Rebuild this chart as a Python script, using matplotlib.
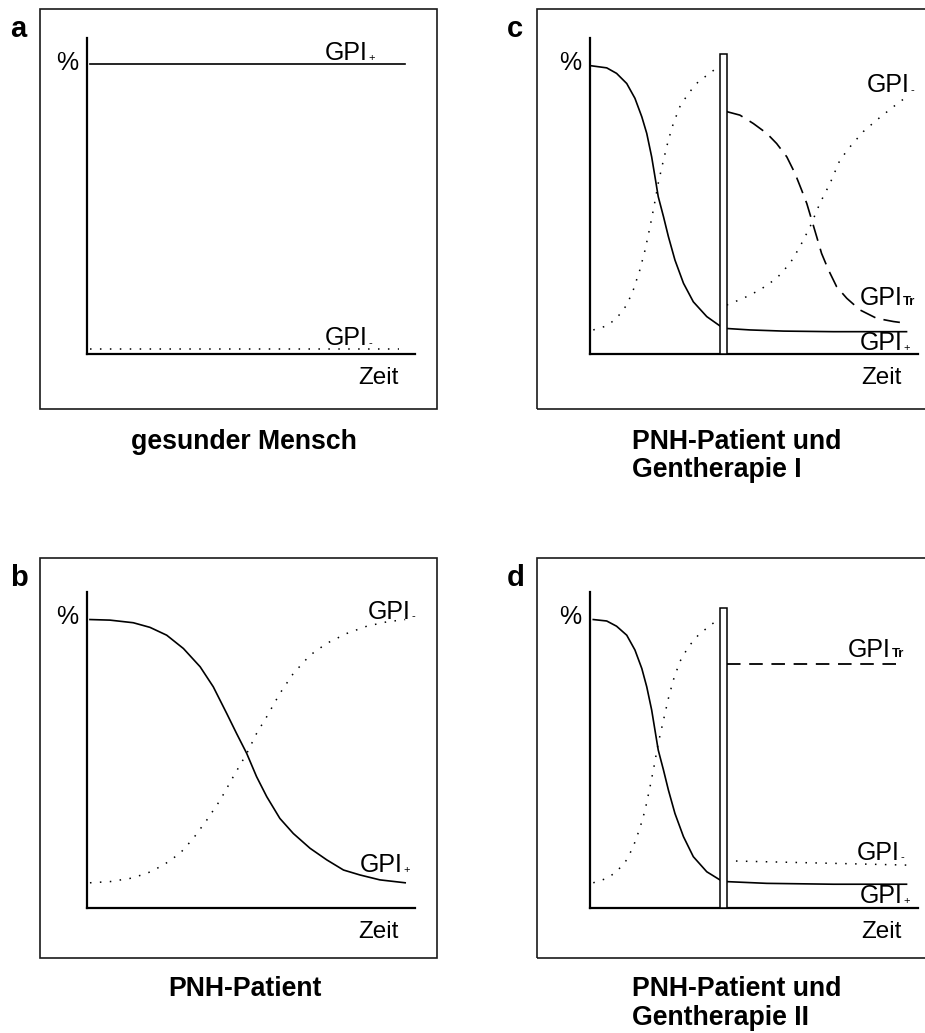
import matplotlib
matplotlib.use('Agg')
from matplotlib import pyplot as plt
from matplotlib.patches import Rectangle

plt.rcParams['font.family'] = ['Liberation Sans', 'DejaVu Sans']

W, H = 925, 1033

# a: gesunder Mensch
a_t_plus = [1, 97]
a_plus = [100, 100]
a_t_minus = [1, 95]
a_minus = [1.7, 1.7]

# b: PNH-Patient
b_t_plus = [0.9, 7.0, 14.1, 19.2, 24.3, 29.4, 34.5, 38.5, 42.6, 45.6, 48.7, 51.7, 54.8,
            58.8, 62.9, 68.0, 73.1, 78.2, 83.2, 89.3, 97.0]
b_plus = [99.5, 99.3, 98.4, 96.8, 94.1, 89.5, 83.2, 76.3, 67.1, 60.2, 53.3, 45.3, 38.4,
          30.9, 25.7, 20.6, 16.6, 13.1, 11.4, 9.7, 8.7]
b_t_minus = [0.9, 7.0, 13.1, 18.2, 23.3, 28.4, 32.4, 36.5, 40.6, 44.6, 48.7, 51.7, 54.8,
             58.8, 62.9, 68.0, 73.1, 79.2, 85.3, 91.4, 97.0]
b_minus = [8.7, 9.1, 10.2, 11.9, 14.8, 18.9, 24.0, 30.3, 37.2, 45.3, 53.3, 60.2, 66.0,
           74.0, 80.9, 87.2, 91.3, 94.7, 97.2, 98.7, 99.5]

# c: PNH-Patient und Gentherapie I
c_t_plus = [0.5, 5.1, 8.1, 11.2, 13.7, 15.8, 17.3, 18.8, 19.8, 20.8, 22.4, 23.9, 25.9,
            28.5, 31.5, 35.6, 39.6]
c_plus = [99.4, 98.7, 96.8, 93.3, 88.2, 81.8, 76.1, 68.0, 61.2, 54.3, 47.4, 40.5, 32.4,
          24.4, 18.0, 12.9, 9.7]
c_t_plus2 = [41.7, 48.8, 59.0, 74.2, 96.5]
c_plus2 = [8.8, 8.3, 7.9, 7.7, 7.7]
c_t_minus = [1.0, 5.1, 8.1, 11.2, 13.2, 15.2, 16.8, 18.3, 19.5, 20.8, 22.4, 23.9, 25.4,
             27.4, 30.0, 33.0, 36.1, 38.1]
c_minus = [8.3, 9.7, 12.3, 16.9, 22.1, 29.0, 35.9, 43.9, 50.8, 58.9, 66.9, 73.8, 79.5,
           85.3, 89.9, 93.9, 96.5, 98.2]
c_t_minus2 = [41.7, 46.7, 51.8, 56.9, 61.0, 64.0, 67.1, 70.1, 73.2, 76.2, 79.3, 83.3,
              87.4, 92.5, 96.5]
c_minus2 = [16.9, 19.2, 22.1, 26.1, 31.3, 37.0, 43.9, 52.0, 58.9, 66.9, 71.5, 76.7,
            80.7, 85.3, 88.7]
c_t_tr = [41.7, 45.7, 49.8, 53.9, 56.9, 60.0, 62.5, 64.5, 66.1, 67.6, 69.1, 70.6, 72.7,
          75.2, 78.3, 82.3, 87.4, 92.5, 96.5]
c_tr = [83.6, 82.4, 79.5, 76.1, 72.6, 68.0, 62.3, 56.6, 51.9, 46.2, 40.5, 34.7, 29.0,
        23.2, 19.2, 15.2, 12.3, 11.2, 10.6]

# d: PNH-Patient und Gentherapie II
d_t_plus = [1.0, 5.1, 8.1, 11.2, 13.7, 15.8, 17.3, 18.8, 19.8, 20.8, 22.4, 23.9, 25.9,
            28.5, 31.5, 35.6, 39.6]
d_plus = [99.5, 99.0, 97.2, 94.1, 89.0, 82.6, 76.3, 68.3, 61.4, 54.5, 47.6, 40.7, 32.6,
          24.6, 17.7, 12.5, 9.7]
d_t_plus2 = [41.7, 53.9, 74.2, 96.5]
d_plus2 = [9.1, 8.5, 8.2, 8.2]
d_t_minus = [1.0, 5.1, 8.1, 11.2, 13.2, 15.2, 16.8, 18.3, 19.5, 20.8, 22.4, 23.9, 25.4,
             27.4, 30.0, 33.0, 36.1, 38.1]
d_minus = [8.7, 10.2, 12.5, 16.6, 21.2, 27.5, 33.8, 41.8, 48.7, 56.8, 64.8, 72.3, 78.6,
           85.0, 90.1, 94.1, 97.0, 98.7]
d_t_minus2 = [44.5, 96.6]
d_minus2 = [16.2, 14.8]
d_t_tr = [41.8, 94.2]
d_tr = [84.1, 84.1]

# Zeitpunkt der Gentherapie (Balken)
therapie_t = 39.6
therapie_breite = 2.2
therapie_hoehe = 103.5

SOLID = dict(color='black', lw=1.2, ls='-', solid_joinstyle='round')
DOTS = dict(color='black', lw=1.1, ls=(0, (1, 5.5)))

fig = plt.figure(figsize=(W / 100, H / 100), dpi=100)


def fx(x, y):
    return x / W, 1 - y / H


def panel(x0, y0, bx, by, letter):
    # Rahmen um das Teilbild
    fig.add_artist(Rectangle(fx(bx, by + 400), 397 / W, 400 / H, transform=fig.transFigure,
                             fill=False, lw=1.2, ec='#1a1a1a'))
    fig.text(*fx(bx - 30, by + 28), letter, fontsize=21, fontweight='bold', va='baseline')
    ax = fig.add_axes([x0 / W, 1 - y0 / H, 328 / W, 316 / H])
    ax.set_xlim(0, 100)
    ax.set_ylim(0, 109)
    ax.patch.set_alpha(0)
    for s in ['top', 'right']:
        ax.spines[s].set_visible(False)
    for s in ['left', 'bottom']:
        ax.spines[s].set_linewidth(1.6)
    ax.set_xticks([])
    ax.set_yticks([])
    ax.text(-2.6, 100.5, '%', fontsize=18, ha='right', va='center')
    ax.text(95, -10.2, 'Zeit', fontsize=17.5, ha='right', va='baseline')
    return ax


def gpi(ax, x, y, sub, bold=False):
    t = ax.text(x, y, 'GPI', fontsize=18, va='baseline')
    ax.annotate(sub, xy=(1, 0), xycoords=t, xytext=(0.3, 1.7), textcoords='offset points',
                fontsize=9.5 if bold else 8, fontweight='bold' if bold else 'normal',
                va='bottom', ha='left')


def balken(ax):
    ax.add_patch(Rectangle((therapie_t, 0), therapie_breite, therapie_hoehe,
                           fc='white', ec='black', lw=1.1, zorder=5, clip_on=False))


# a
ax = panel(87, 354, 40, 9, 'a')
ax.plot(a_t_plus, a_plus, **SOLID)
ax.plot(a_t_minus, a_minus, **DOTS)
gpi(ax, 72.6, 101.4, '+')
gpi(ax, 72.6, 3.1, '-')

# b
ax = panel(87, 908, 40, 558, 'b')
ax.plot(b_t_plus, b_plus, **SOLID)
ax.plot(b_t_minus, b_minus, **DOTS)
gpi(ax, 85.7, 99.7, '-')
gpi(ax, 83.2, 12.4, '+')

# c
ax = panel(590, 354, 537, 9, 'c')
ax.plot(c_t_plus, c_plus, **SOLID)
ax.plot(c_t_plus2, c_plus2, **SOLID)
ax.plot(c_t_minus, c_minus, **DOTS)
ax.plot(c_t_minus2, c_minus2, **DOTS)
ax.plot(c_t_tr, c_tr, color='black', lw=1.2, ls=(0, (10, 5)))
balken(ax)
gpi(ax, 84.5, 90.3, '-')
gpi(ax, 82.3, 16.9, 'Tr', bold=True)
gpi(ax, 82.3, 1.4, '+')

# d
ax = panel(590, 908, 537, 558, 'd')
ax.plot(d_t_plus, d_plus, **SOLID)
ax.plot(d_t_plus2, d_plus2, **SOLID)
ax.plot(d_t_minus, d_minus, **DOTS)
ax.plot(d_t_minus2, d_minus2, **DOTS)
ax.plot(d_t_tr, d_tr, color='black', lw=1.3, ls=(0, (7.5, 4.8)))
balken(ax)
gpi(ax, 78.7, 86.6, 'Tr', bold=True)
gpi(ax, 81.4, 16.6, '-')
gpi(ax, 82.3, 1.7, '+')

# Bildunterschriften
CAP = dict(fontsize=19.2, fontweight='bold', va='baseline')
fig.text(*fx(244, 449), 'gesunder Mensch', ha='center', **CAP)
fig.text(*fx(245, 996), 'PNH-Patient', ha='center', **CAP)
fig.text(*fx(632, 449), 'PNH-Patient und', ha='left', **CAP)
fig.text(*fx(632, 477), 'Gentherapie I', ha='left', **CAP)
fig.text(*fx(632, 996), 'PNH-Patient und', ha='left', **CAP)
fig.text(*fx(632, 1025), 'Gentherapie II', ha='left', **CAP)

fig.savefig('out.png', dpi=100)
